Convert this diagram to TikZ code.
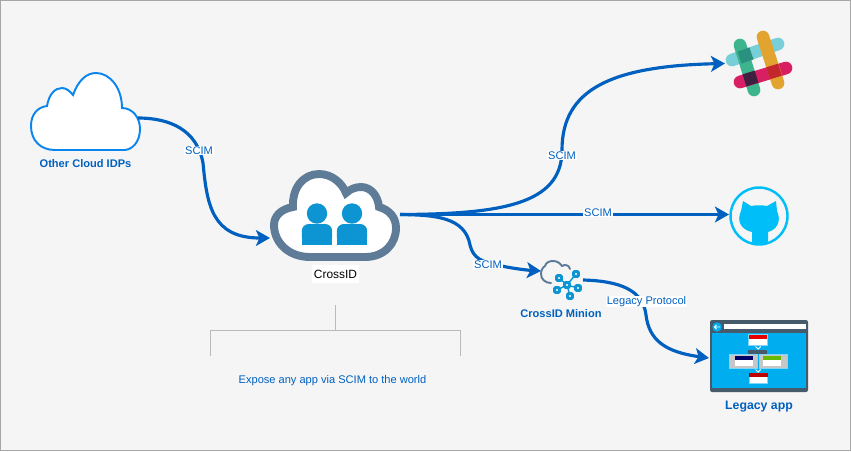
\documentclass[tikz,border=0pt]{standalone}
\usepackage{fontspec}
\setmainfont{Liberation Sans}
\usetikzlibrary{arrows.meta, positioning}
\definecolor{linkblue}{HTML}{0060C0}
\definecolor{cloudblue}{HTML}{0A84EE}
\definecolor{slate}{HTML}{5E7C97}
\definecolor{peopleblue}{HTML}{0D94D2}
\definecolor{catblue}{HTML}{00BEF7}
\definecolor{winblue}{HTML}{00AEEF}
\definecolor{windark}{HTML}{455A6B}
\definecolor{slackteal}{HTML}{79CFD8}
\definecolor{slackgreen}{HTML}{3DB58C}
\definecolor{slackred}{HTML}{D81F64}
\definecolor{slackgold}{HTML}{E2A32F}
\definecolor{slackmixa}{HTML}{2A9080}
\definecolor{slackmixb}{HTML}{3F2040}
\definecolor{slackmixc}{HTML}{C4262E}
\begin{document}
\begin{tikzpicture}[
            x=0.02cm, y=-0.02cm,
            link/.style={-{Stealth[length=8pt,width=9pt,inset=2pt]}, linkblue, line width=1.8pt},
            plain/.style={linkblue, line width=1.8pt},
            onlink/.style={fill=white, inner sep=0.4pt, text=linkblue, font=\fontsize{6.3}{7.5}\selectfont},
            caption/.style={text=linkblue, font=\fontsize{6.3}{7.5}\selectfont\bfseries},
            bar/.style={line width=7.2pt, line cap=round},
            bracket/.style={draw=black!27, line width=0.5pt},
            flagbox/.style={fill=white, draw=winblue!50!white, line width=0.4pt}
        ]
\useasboundingbox (0,0) rectangle (851,451);
\draw[fill=black!4, draw=black!35, line width=0.6pt] (0.5,0.5) rectangle (850.5,450.5);

% Other cloud
\draw[fill=white, draw=cloudblue, line width=1.1pt] (55,150) .. controls (40,150) and (31,140) .. (31,126)
    .. controls (31,114) and (38,107) .. (47,106) .. controls (49,94) and (55,88) .. (62,88)
    .. controls (66,88) and (70,91) .. (73,95) .. controls (78,81) and (86,73) .. (96,73)
    .. controls (110,73) and (122,88) .. (122,108) .. controls (132,108) and (140,117) .. (140,129)
    .. controls (140,142) and (132,150) .. (124,150) -- cycle;
\node[caption] (idplabel) at (85.5,164) {Other Cloud IDPs};
\coordinate (idpout) at (138,118);

% CrossID cloud
\draw[fill=white, draw=slate, line width=4.5pt] (310,257) .. controls (288,257) and (274,242) .. (274,225)
    .. controls (274,216) and (281,209) .. (293,207) .. controls (292,187) and (304,174) .. (319,174)
    .. controls (332,174) and (342,183) .. (346,193) .. controls (350,189) and (356,187) .. (361,187)
    .. controls (371,187) and (378,196) .. (379,207) .. controls (390,210) and (396,218) .. (396,228)
    .. controls (396,244) and (384,257) .. (365,257) -- cycle;
\foreach \cx in {317,352} {
    \fill[peopleblue] (\cx,213.5) circle (10.2);
    \fill[peopleblue, rounded corners=4pt] (\cx-15.2,244.5) -- (\cx-15.2,224) -- (\cx+15.2,224) -- (\cx+15.2,244.5) -- cycle;
    \fill[peopleblue] (\cx-15.2,236) rectangle (\cx+15.2,244.5);
}
\node[fill=white, inner sep=1pt, minimum width=0.9cm, minimum height=0.36cm, font=\fontsize{6.8}{8}\selectfont] (crossid) at (335.5,274) {CrossID};
\coordinate (crossin) at (270,238);
\coordinate (crossout) at (400,214.5);

% Bracket under CrossID
\coordinate (brtop) at (335,305);
\coordinate (brmid) at (335,330);
\coordinate (brleft) at (210,356);
\coordinate (brright) at (460,356);
\draw[bracket] (brtop) -- (brmid);
\draw[bracket] (brleft) -- (brleft |- brmid) -- (brright |- brmid) -- (brright);
\node[text=linkblue, font=\fontsize{6.3}{7.5}\selectfont] (exposetxt) at (332.5,381) {Expose any app via SCIM to the world};

% Slack
\draw[bar, draw=slackteal] (732,60) -- (778,44);
\draw[bar, draw=slackgreen] (740,45) -- (754,90);
\draw[bar, draw=slackred] (740,82) -- (786,68);
\draw[bar, draw=slackgold] (763,37) -- (778,83);
\fill[shift={(745.5,55.5)}, rotate=19, slackmixa] (-6.3,-6.3) rectangle (6.3,6.3);
\fill[shift={(750.5,78.5)}, rotate=17, slackmixb] (-6.3,-6.3) rectangle (6.3,6.3);
\fill[shift={(774,71.5)}, rotate=17, slackmixc] (-6.3,-6.3) rectangle (6.3,6.3);
\coordinate (slackin) at (725,63.5);

% GitHub
\draw[catblue, line width=1.4pt] (759,216) circle (28.5);
\fill[catblue] (743,201) -- (751,206) .. controls (756,205) and (762,205) .. (767,206) -- (776,201)
    -- (777,211) .. controls (782,222) and (776,230) .. (768,232) -- (768,243) .. controls (763,245) and (757,245) .. (752,243)
    -- (752,232) .. controls (742,230) and (736,222) .. (741,211) -- cycle;
\coordinate (githubin) at (729,214.5);

% Minion
\draw[slate, line width=1.1pt, line cap=round] (551,283) .. controls (545,283) and (541,279) .. (541,274)
    .. controls (541,270) and (543,267) .. (545,266) .. controls (546,262) and (550,261) .. (553,261)
    .. controls (557,261) and (560,263) .. (562,266) .. controls (565,264) and (569,265) .. (570,269);
\foreach \nx/\ny in {559/278,576/274,557/290,578/288,570/296} {
    \draw[peopleblue, line width=0.8pt] (567,285) -- (\nx,\ny);
}
\foreach \nx/\ny in {567/285,559/278,576/274,557/290,578/288,570/296} {
    \draw[fill=peopleblue!25!white, draw=peopleblue, line width=1.5pt, rounded corners=0.6pt] (\nx-2.5,\ny-2.5) rectangle (\nx+2.5,\ny+2.5);
}
\node[caption] (minionlabel) at (561,314) {CrossID Minion};
\coordinate (minionin) at (541,271);
\coordinate (minionout) at (583,280);

% Legacy app window
\fill[windark, rounded corners=1.2pt] (710,320) rectangle (808,392);
\fill[winblue] (712,333) rectangle (806,388);
\fill[white] (724,324) rectangle (806,329);
\fill[winblue] (717,327) circle (4.7);
\draw[white, line width=0.5pt] (720,327) -- (714.5,327) (716.5,325) -- (714.5,327) -- (716.5,329);
\draw[flagbox] (748.5,334.5) rectangle (767,345);
\fill[red!90!black] (748.5,334.5) rectangle (767,338.5);
\draw[white, line width=0.6pt] (755.5,346.5) -- (758,349) -- (760.5,346.5);
\fill[windark] (748,350) rectangle (767,354);
\draw[fill=black!22, draw=winblue!50!white, line width=0.4pt] (729.5,354) rectangle (757,368);
\draw[fill=black!22, draw=winblue!50!white, line width=0.4pt] (759,354) rectangle (787,368);
\fill[white] (735,360) rectangle (753,366);
\fill[white] (763,360) rectangle (781,366);
\fill[blue!40!black] (735,356) rectangle (753,360);
\fill[green!55!black!60!yellow] (763,356) rectangle (781,360);
\draw[white, line width=0.6pt] (755.5,369.5) -- (758,372) -- (760.5,369.5);
\draw[flagbox] (749,373) rectangle (767.5,383);
\fill[red!75!black] (749,373) rectangle (767.5,377);
\node[caption, font=\fontsize{7}{8}\selectfont\bfseries] (legacylabel) at (759,406.5) {Legacy app};
\coordinate (legacyin) at (709,358);

% SCIM and protocol links
\draw[link] (idpout) .. controls (170,118) and (197,130) .. (203,163)
    .. controls (207,205) and (212,238) .. (crossin);
\draw[link] (crossout) .. controls (500,214) and (562,205) .. (562,150)
    .. controls (562,90) and (610,66) .. (slackin);
\draw[link] (crossout) -- (githubin);
\draw[plain] (crossout) .. controls (435,215) and (465,217) .. (470,245)
    .. controls (473,258) and (482,262) .. (497,265);
\draw[link] (497,265) .. controls (510,268) and (525,270) .. (minionin);
\draw[link] (minionout) .. controls (620,281) and (643,290) .. (646,315)
    .. controls (649,340) and (665,352) .. (legacyin);
\node[onlink] (scimidp) at (199,150.5) {SCIM};
\node[onlink] (scimslack) at (562,155.5) {SCIM};
\node[onlink] (scimgit) at (598,212.5) {SCIM};
\node[onlink] (scimminion) at (488,264.5) {SCIM};
\node[onlink] (legacyproto) at (646.5,301.5) {Legacy Protocol};

\end{tikzpicture}
\end{document}
